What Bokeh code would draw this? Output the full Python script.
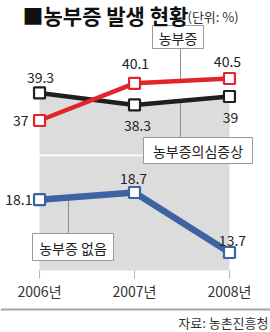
from bokeh.plotting import figure
from bokeh.models import Range1d, ColumnDataSource
from bokeh.core.properties import value
from bokeh.embed import file_html
from bokeh.resources import INLINE

# ---- data ----
years = [2006, 2007, 2008]
year_labels = ["2006년", "2007년", "2008년"]
farmer_syndrome = [37.0, 40.1, 40.5]          # 농부증 (red)
suspected = [39.3, 38.3, 39.0]                # 농부증의심증상 (black)
none_ = [18.1, 18.7, 13.7]                    # 농부증 없음 (blue)

FONT = "Noto Sans CJK KR"
RED = "#e2252b"
BLACK = "#1f1f1f"
BLUE = "#3e63a2"
GREY = "#dcdcdc"
TXT = "#222222"

W, H = 270, 332
p = figure(width=W, height=H, output_backend="svg", toolbar_location=None,
           x_axis_location=None, y_axis_location=None, min_border=0,
           x_range=Range1d(2005.589, 2008.432), y_range=Range1d(19.333, 47.0))
p.outline_line_color = None
p.grid.visible = False
p.background_fill_color = "white"
# broken axis: lower segment on its own scale
p.extra_y_ranges = {"low": Range1d(7.033, 34.7), "px": Range1d(H, 0)}
p.extra_x_ranges = {"px": Range1d(0, W)}

# ---- grey panel ----
p.varea(x=years, y1=suspected, y2=[34.17] * 3, fill_color=GREY)
p.varea(x=years, y1=[12.2] * 3, y2=[21.72] * 3, fill_color=GREY, y_range_name="low")

# ---- leader lines (pixel space) ----
p.segment(x0=[180, 180, 68], y0=[48, 100, 198], x1=[180, 180, 68], y1=[80, 137, 233],
          line_color="#8c8c8c", line_width=1, x_range_name="px", y_range_name="px")

# ---- lines & markers ----
p.line(years, suspected, line_color=BLACK, line_width=4.5)
p.line(years, farmer_syndrome, line_color=RED, line_width=4.5)
p.line(years, none_, line_color=BLUE, line_width=6.5, y_range_name="low")
p.scatter(years, suspected, marker="square", size=11, fill_color="white",
          line_color=BLACK, line_width=2.2)
p.scatter(years, farmer_syndrome, marker="square", size=11, fill_color="white",
          line_color=RED, line_width=2.2)
p.scatter(years, none_, marker="square", size=11, fill_color="white",
          line_color=BLUE, line_width=2.2, y_range_name="low")

# ---- value labels ----
def fmt(v):
    return str(int(v)) if float(v).is_integer() else str(v)

def labels(ys, xo, yo, align, rng="default"):
    src = ColumnDataSource(dict(x=years, y=ys, t=[fmt(v) for v in ys], xo=xo, yo=yo, a=align))
    kw = {} if rng == "default" else {"y_range_name": rng}
    p.text("x", "y", text="t", source=src, x_offset="xo", y_offset="yo", text_align="a",
           text_baseline="middle", text_font=value(FONT), text_font_size="14px",
           text_color=TXT, **kw)

labels(suspected, [1, 3, 1], [-15, 21, 21], ["center", "center", "center"])
labels(farmer_syndrome, [-11, 1, -2], [0, -20, -17], ["right", "center", "center"])
labels(none_, [-7, -1, 3], [0, -14, -12], ["right", "center", "center"], rng="low")

# ---- callout boxes ----
p.rect(x=[177.5, 197.5, 72.5], y=[36.5, 150, 246.5], width=[51, 109, 81], height=[23, 26, 27],
       fill_color="white", line_color="#9a9a9a", line_width=1,
       x_range_name="px", y_range_name="px")
p.text(x=[177.5, 197.5, 72.5], y=[37, 150.5, 247], text=["농부증", "농부증의심증상", "농부증 없음"],
       text_align="center", text_baseline="middle", text_font=value(FONT),
       text_font_size="14px", text_color=TXT, x_range_name="px", y_range_name="px")

# ---- x axis (ticks + labels) ----
p.segment(x0=years, x1=years, y0=[270] * 3, y1=[278] * 3, line_color="#b5b5b5",
          line_width=1, y_range_name="px")
p.text(x=years, y=[290] * 3, text=year_labels, text_align="center", text_baseline="middle",
       text_font=value(FONT), text_font_size="14px", text_color="#333333", y_range_name="px")

# ---- title, separator, source ----
p.text(x=[22], y=[14], text=["■농부증 발생 현황"], text_align="left", text_baseline="middle",
       text_font=value(FONT), text_font_size="21px", text_font_style="bold",
       text_color="#111111", x_range_name="px", y_range_name="px")
p.text(x=[187], y=[16], text=["(단위: %)"], text_align="left", text_baseline="middle",
       text_font=value(FONT), text_font_size="13px", text_color="#333333",
       x_range_name="px", y_range_name="px")
p.segment(x0=[0], x1=[W], y0=[309], y1=[309], line_color="#a8a8a8", line_width=2,
          x_range_name="px", y_range_name="px")
p.text(x=[268], y=[322], text=["자료: 농촌진흥청"], text_align="right", text_baseline="middle",
       text_font=value(FONT), text_font_size="13px", text_color="#333333",
       x_range_name="px", y_range_name="px")

open("out.html", "w").write(file_html(p, INLINE))
